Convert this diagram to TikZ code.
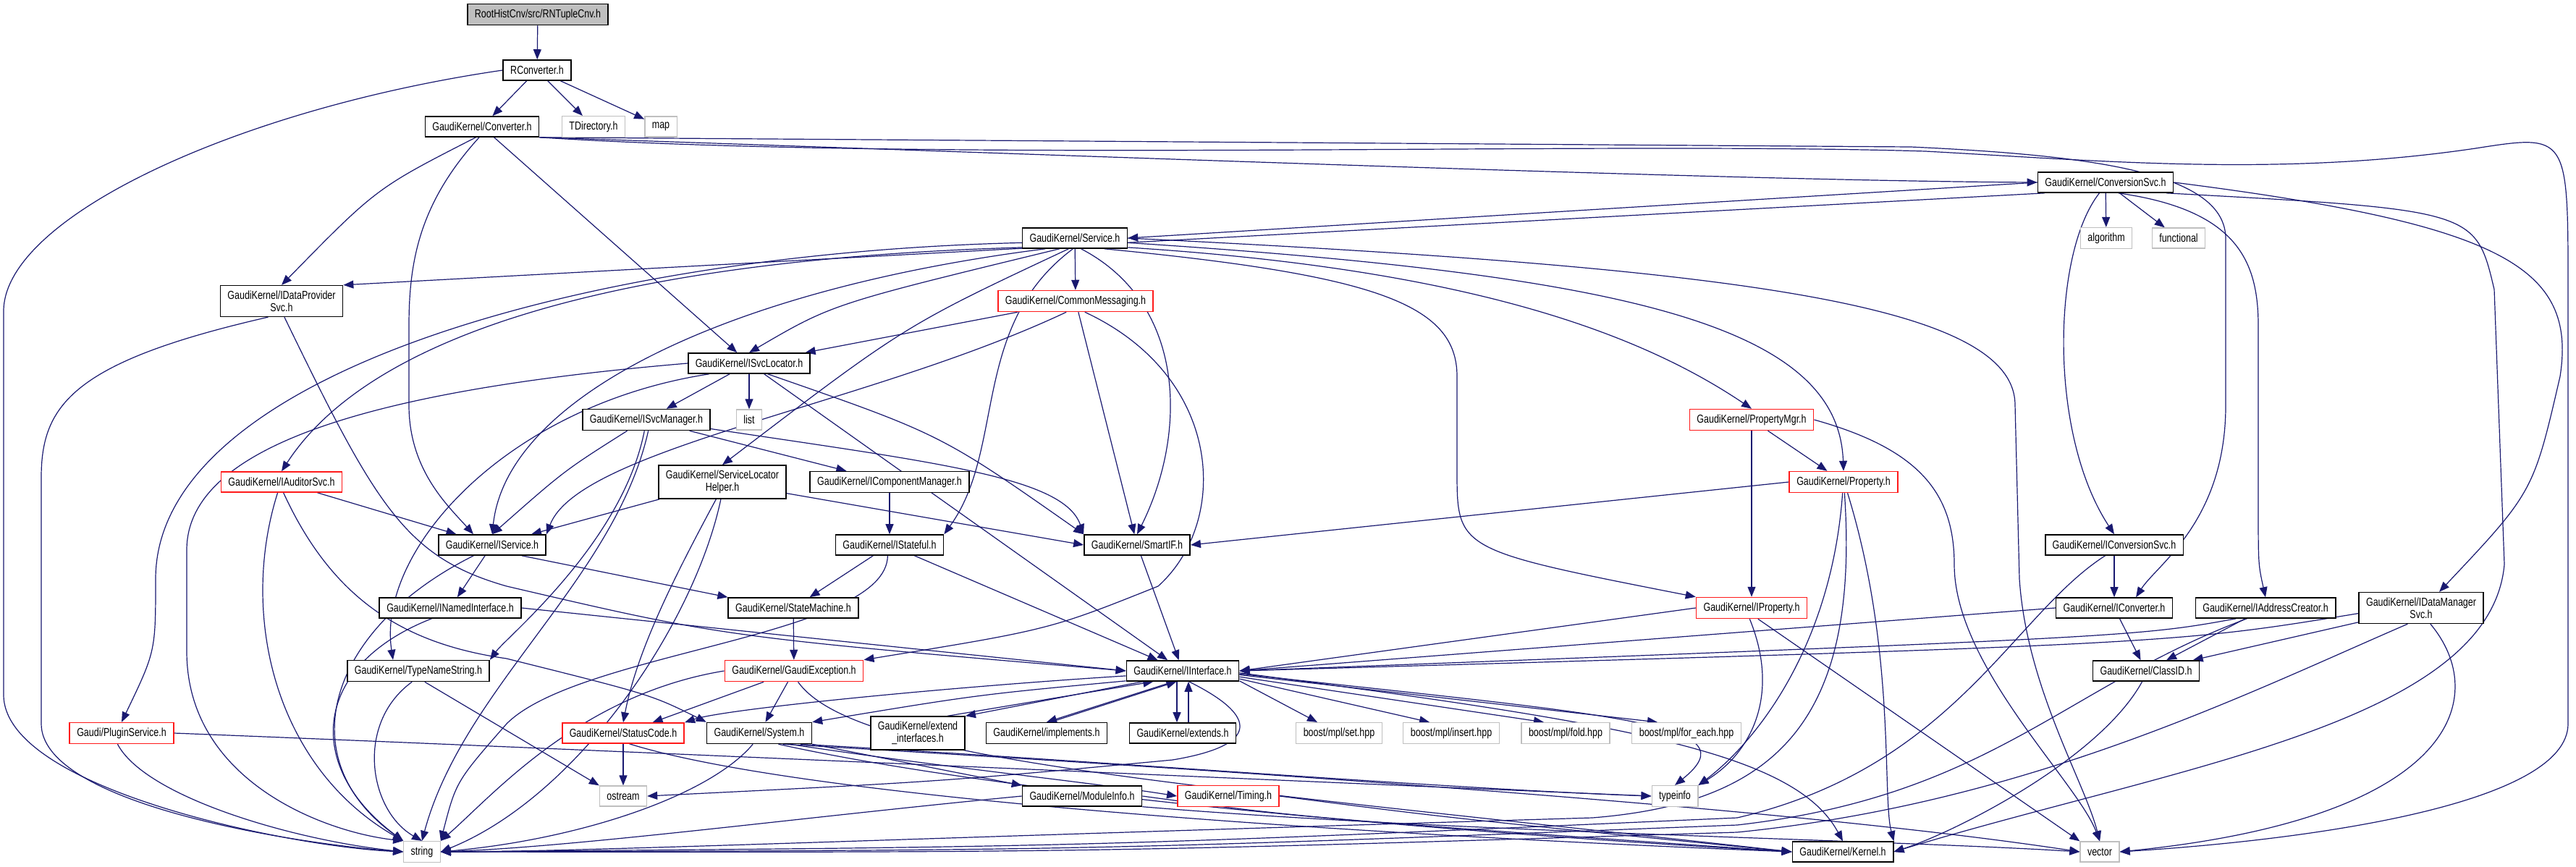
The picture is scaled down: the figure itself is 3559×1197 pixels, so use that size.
\documentclass[tikz,border=0pt]{standalone}
\usepackage{fontspec}
\setmainfont{Liberation Sans}[FakeStretch=0.78]
\usetikzlibrary{arrows.meta}
\definecolor{edgeblue}{HTML}{191970}
\definecolor{truncred}{HTML}{FF1A1A}
\definecolor{extgrey}{HTML}{BFBFBF}
\pgfdeclarelayer{edges}
\pgfsetlayers{edges,main}

\begin{document}
\begin{tikzpicture}[x=1pt, y=-1pt,
    hdr/.style={draw=black, line width=1.6pt, fill=white, inner xsep=10pt,
                inner ysep=7pt, minimum height=28pt, align=center,
                font=\fontsize{16}{17}\selectfont},
    trunc/.style={hdr, draw=truncred},
    ext/.style={hdr, draw=extgrey, line width=1.3pt},
    rootfile/.style={hdr, fill=extgrey},
    dep/.style={draw=edgeblue, line width=1.2pt,
                -{Triangle[length=14pt, width=11pt]}}]

  \useasboundingbox (0,0) rectangle (3559,1197);

  %% ---- headers, row by row ----
  \node[rootfile] (root) at (743,20) {RootHistCnv/src/RNTupleCnv.h};
  \node[hdr] (rconv) at (742,97) {RConverter.h};
  \node[hdr] (conv) at (666,175) {GaudiKernel/Converter.h};
  \node[ext] (tdir) at (820,175) {TDirectory.h};
  \node[ext] (map) at (913,175) {map};
  \node[hdr] (convsvc) at (2909,252) {GaudiKernel/ConversionSvc.h};
  \node[ext] (algo) at (2910,329) {algorithm};
  \node[ext] (func) at (3010,329) {functional};
  \node[hdr] (service) at (1485,329) {GaudiKernel/Service.h};
  \node[hdr] (idps) at (389,416) {GaudiKernel/IDataProvider\\Svc.h};
  \node[trunc] (cmsg) at (1486,416) {GaudiKernel/CommonMessaging.h};
  \node[hdr] (isl) at (1035,502) {GaudiKernel/ISvcLocator.h};
  \node[ext] (list) at (1035,580) {list};
  \node[hdr] (ism) at (893,580) {GaudiKernel/ISvcManager.h};
  \node[trunc] (pmgr) at (2420,580) {GaudiKernel/PropertyMgr.h};
  \node[trunc] (iaud) at (389,666) {GaudiKernel/IAuditorSvc.h};
  \node[hdr] (slh) at (998,666) {GaudiKernel/ServiceLocator\\Helper.h};
  \node[hdr] (icm) at (1229,666) {GaudiKernel/IComponentManager.h};
  \node[trunc] (prop) at (2547,666) {GaudiKernel/Property.h};
  \node[hdr] (isvc) at (680,753) {GaudiKernel/IService.h};
  \node[hdr] (istat) at (1229,753) {GaudiKernel/IStateful.h};
  \node[hdr] (smart) at (1571,753) {GaudiKernel/SmartIF.h};
  \node[hdr] (iconvsvc) at (2921,753) {GaudiKernel/IConversionSvc.h};
  \node[hdr] (inamed) at (622,840) {GaudiKernel/INamedInterface.h};
  \node[hdr] (smach) at (1096,840) {GaudiKernel/StateMachine.h};
  \node[trunc] (iprop) at (2420,840) {GaudiKernel/IProperty.h};
  \node[hdr] (iconv) at (2921,840) {GaudiKernel/IConverter.h};
  \node[hdr] (iaddr) at (3130,840) {GaudiKernel/IAddressCreator.h};
  \node[hdr] (idms) at (3345,840) {GaudiKernel/IDataManager\\Svc.h};
  \node[hdr] (tns) at (578,927) {GaudiKernel/TypeNameString.h};
  \node[trunc] (gexc) at (1097,927) {GaudiKernel/GaudiException.h};
  \node[hdr] (iint) at (1634,927) {GaudiKernel/IInterface.h};
  \node[hdr] (clid) at (2965,927) {GaudiKernel/ClassID.h};
  \node[trunc] (plugin) at (168,1013) {Gaudi/PluginService.h};
  \node[trunc] (sc) at (861,1013) {GaudiKernel/StatusCode.h};
  \node[hdr] (sys) at (1049,1013) {GaudiKernel/System.h};
  \node[hdr] (extif) at (1268,1013) {GaudiKernel/extend\\\_interfaces.h};
  \node[hdr] (impl) at (1446,1013) {GaudiKernel/implements.h};
  \node[hdr] (exts) at (1634,1013) {GaudiKernel/extends.h};
  \node[ext] (bset) at (1850,1013) {boost/mpl/set.hpp};
  \node[ext] (bins) at (2005,1013) {boost/mpl/insert.hpp};
  \node[ext] (bfold) at (2163,1013) {boost/mpl/fold.hpp};
  \node[ext] (bfe) at (2330,1013) {boost/mpl/for\_each.hpp};
  \node[ext] (ostream) at (861,1100) {ostream};
  \node[hdr] (minfo) at (1495,1100) {GaudiKernel/ModuleInfo.h};
  \node[trunc] (timing) at (1697,1100) {GaudiKernel/Timing.h};
  \node[ext] (typeinfo) at (2314,1100) {typeinfo};
  \node[ext] (string) at (583,1177) {string};
  \node[hdr] (kernel) at (2546,1177) {GaudiKernel/Kernel.h};
  \node[ext] (vector) at (2901,1177) {vector};

  \begin{pgfonlayer}{edges}
  %% ---- RNTupleCnv.h, RConverter.h ----
  \draw[dep] (root) -- (rconv);
  \draw[dep] (rconv) -- (conv);
  \draw[dep] (rconv) -- (tdir);
  \draw[dep] (rconv) -- (map);
  \draw[dep] (rconv.west) .. controls (330,150) and (5,300) .. (5,430) -- (5,960)
    .. controls (5,1090) and (400,1170) .. (string.west);

  %% ---- Converter.h ----
  \draw[dep] (conv.-120) .. controls (520,260) .. (idps.north);
  \draw[dep] (conv.-105) .. controls (580,280) and (565,360) .. (565,450) -- (565,560)
    .. controls (565,650) and (620,700) .. ([xshift=-26pt]isvc.north);
  \draw[dep] (conv) -- (isl);
  \draw[dep] (conv.south east) .. controls (1500,215) and (2400,250) .. (convsvc.west);
  \draw[dep] (conv.south east) -- (2640,203) .. controls (2900,215) and (3075,240) .. (3075,330)
    -- (3075,560) .. controls (3075,720) and (2980,780) .. ([xshift=30pt]iconv.north);
  \draw[dep] (conv.south east) .. controls (1300,225) and (2200,195) .. (2660,209)
    .. controls (2900,222) and (3150,245) .. (3420,205)
    .. controls (3548,185) .. (3548,400) -- (3548,1000)
    .. controls (3548,1110) and (3200,1160) .. (vector.east);

  %% ---- ConversionSvc.h ----
  \draw[dep] (convsvc.west) -- (service.east);
  \draw[dep] (convsvc.-170) -- (idps.north east);
  \draw[dep] (convsvc) -- (algo);
  \draw[dep] (convsvc) -- (func);
  \draw[dep] (convsvc.-120) .. controls (2835,350) and (2830,600) .. (iconvsvc.north);
  \draw[dep] (convsvc.-40) .. controls (3090,290) and (3120,360) .. (3120,450) -- (3120,700)
    .. controls (3120,780) .. (iaddr.north);
  \draw[dep] (convsvc.east) .. controls (3460,310) and (3560,370) .. (3537,520)
    .. controls (3500,680) .. ([xshift=25pt]idms.north);
  \draw[dep] (convsvc.-10) .. controls (3420,290) .. (3446,400) -- (3460,780)
    .. controls (3440,1000) and (3000,1060) .. (kernel.east);

  %% ---- Service.h ----
  \draw[dep] (service.-175) .. controls (800,350) and (215,520) .. (215,800)
    .. controls (215,900) .. (plugin.north);
  \draw[dep] (service.-170) .. controls (800,360) and (500,480) .. (iaud.north);
  \draw[dep] (service.-160) .. controls (1000,400) and (700,550) .. (isvc.north);
  \draw[dep] (service.-145) .. controls (1150,420) .. (isl.north);
  \draw[dep] (service) -- (cmsg);
  \draw[dep] (service.-120) .. controls (1250,450) .. (slh.north);
  \draw[dep] (service.-100) .. controls (1340,450) and (1390,620) .. (istat.north east);
  \draw[dep] (service.-60) .. controls (1640,420) and (1640,600) .. (smart.north);
  \draw[dep] (service.-10) .. controls (2000,370) and (2250,450) .. (pmgr.north);
  \draw[dep] (service.-5) .. controls (2250,380) and (2540,450) .. (prop.north);
  \draw[dep] (service.-20) .. controls (1900,380) and (2013,420) .. (2013,520) -- (2013,650)
    .. controls (2013,760) .. (iprop.north west);
  \draw[dep] (service.east) .. controls (2400,370) and (2784,420) .. (2784,560) -- (2790,800)
    .. controls (2800,950) and (2880,1080) .. (vector.north);

  %% ---- CommonMessaging.h ----
  \draw[dep] (cmsg) -- (isl);
  \draw[dep] (cmsg.-130) .. controls (1200,560) and (800,620) .. (isvc.north east);
  \draw[dep] (cmsg) -- (smart);
  \draw[dep] (cmsg.-50) .. controls (1690,520) and (1700,720) .. (1600,810)
    .. controls (1450,870) .. (gexc.north east);

  %% ---- ISvcLocator.h, ISvcManager.h ----
  \draw[dep] (isl) -- (ism);
  \draw[dep] (isl) -- (list);
  \draw[dep] (isl) -- (iint);
  \draw[dep] (isl.-30) .. controls (1300,600) .. (smart.north west);
  \draw[dep] (isl.west) .. controls (500,540) and (258,620) .. (258,760) -- (258,900)
    .. controls (258,1080) and (450,1150) .. (string.north west);
  \draw[dep] (isl.-165) .. controls (700,560) and (520,760) .. ([xshift=-35pt]tns.north);
  \draw[dep] (ism) -- (icm);
  \draw[dep] (ism.-8) .. controls (1300,640) and (1470,660) .. (smart.north west);
  \draw[dep] (ism.-150) .. controls (780,650) .. (isvc.north);
  \draw[dep] (ism.-100) .. controls (860,750) and (700,880) .. (tns.north east);
  \draw[dep] (ism.-80) .. controls (850,800) and (640,950) .. (string.north);

  %% ---- IAuditorSvc.h, ServiceLocatorHelper.h ----
  \draw[dep] (iaud) -- (isvc);
  \draw[dep] (iaud.-110) .. controls (330,850) and (380,1060) .. (string.north west);
  \draw[dep] (iaud.-80) .. controls (460,830) and (560,890) .. (700,910)
    .. controls (900,960) .. (sys.north west);
  \draw[dep] (slh) -- (isvc);
  \draw[dep] (slh.-110) .. controls (930,800) and (880,900) .. (sc.north);
  \draw[dep] (slh.-95) .. controls (960,860) and (800,1100) .. (string.east);
  \draw[dep] (slh.-10) -- (smart.west);

  %% ---- IComponentManager.h, IStateful.h, SmartIF.h ----
  \draw[dep] (icm) -- (istat);
  \draw[dep] (istat) -- (smach);
  \draw[dep] (istat) -- (iint);
  \draw[dep] (istat.-100) .. controls (1225,880) and (800,900) .. (700,1000)
    .. controls (630,1080) .. (string.north east);
  \draw[dep] (smart) -- (iint);

  %% ---- PropertyMgr.h, Property.h, IProperty.h ----
  \draw[dep] (pmgr) -- (prop);
  \draw[dep] (pmgr) -- (iprop);
  \draw[dep] (pmgr.east) .. controls (2650,620) and (2700,680) .. (2700,780)
    .. controls (2700,920) and (2870,1080) .. (vector.north);
  \draw[dep] (prop.west) -- (smart.east);
  \draw[dep] (prop.-95) .. controls (2530,900) and (2420,1030) .. (typeinfo.north east);
  \draw[dep] (prop.-85) .. controls (2570,1000) and (2450,1110) .. (2200,1130)
    .. controls (1200,1160) and (800,1177) .. (string.east);
  \draw[dep] (prop.-70) .. controls (2620,900) and (2600,1100) .. (kernel.north east);
  \draw[dep] (iprop.west) -- (iint.east);
  \draw[dep] (iprop.-100) .. controls (2460,960) and (2420,1040) .. (typeinfo.north east);
  \draw[dep] (iprop.-60) -- (vector.north west);

  %% ---- IService.h, INamedInterface.h, TypeNameString.h ----
  \draw[dep] (isvc) -- (inamed);
  \draw[dep] (isvc.-20) -- (smach.north west);
  \draw[dep] (isvc.-150) .. controls (450,870) and (400,1050) .. (string.north west);
  \draw[dep] (inamed.east) -- (iint.west);
  \draw[dep] (inamed.-150) .. controls (430,920) and (420,1060) .. (string.north west);
  \draw[dep] (tns.-120) .. controls (490,1000) and (510,1120) .. (string.north);
  \draw[dep] (tns.-60) -- (ostream.north west);

  %% ---- StateMachine.h, GaudiException.h ----
  \draw[dep] (smach) -- (gexc);
  \draw[dep] (gexc) -- (sc);
  \draw[dep] (gexc) -- (sys);
  \draw[dep] (gexc.west) .. controls (800,960) and (680,1100) .. (string.north east);
  \draw[dep] (gexc.-70) .. controls (1180,1050) and (1600,1080) .. (kernel.west);

  %% ---- IInterface.h ----
  \draw[dep] (iint.-175) .. controls (1300,950) and (1000,980) .. (sc.north east);
  \draw[dep] (iint.-170) .. controls (1350,960) .. (sys.north east);
  \draw[dep] (iint.-165) -- (extif.north east);
  \draw[dep] (extif.30) -- (iint.-160);
  \draw[dep] (iint.-130) -- (impl.north);
  \draw[dep] (impl.70) -- (iint.-120);
  \draw[dep] ([xshift=-8pt]iint.south) -- ([xshift=-8pt]exts.north);
  \draw[dep] ([xshift=8pt]exts.north) -- ([xshift=8pt]iint.south);
  \draw[dep] (iint.-10) -- ([xshift=-30pt]bset.north);
  \draw[dep] (iint.-8) -- ([xshift=-30pt]bins.north);
  \draw[dep] (iint.-6) -- ([xshift=-30pt]bfold.north);
  \draw[dep] (iint.-4) -- ([xshift=-40pt]bfe.north);
  \draw[dep] (iint.-60) .. controls (1740,990) and (1740,1030) .. (1620,1050)
    .. controls (1300,1080) .. (ostream.east);
  \draw[dep] (iint.-3) .. controls (2250,990) and (2420,1000) .. (typeinfo.north);
  \draw[dep] (iint.-2) .. controls (2250,1000) and (2480,1040) .. (kernel.north);

  %% ---- bottom rows ----
  \draw[dep] (plugin.-110) .. controls (200,1100) and (400,1160) .. (string.west);
  \draw[dep] (plugin.east) .. controls (800,1035) and (1800,1080) .. (typeinfo.west);
  \draw[dep] (sc) -- (ostream);
  \draw[dep] (sc.-60) .. controls (1100,1100) and (1800,1150) .. (kernel.west);
  \draw[dep] (sys.-120) .. controls (980,1100) and (800,1160) .. (string.east);
  \draw[dep] (sys.south east) -- (minfo.north west);
  \draw[dep] (sys.-20) .. controls (1300,1060) and (1500,1080) .. (timing.west);
  \draw[dep] (sys.-15) .. controls (1500,1050) and (2000,1090) .. (typeinfo.west);
  \draw[dep] (sys.-30) .. controls (1400,1100) and (2000,1150) .. (kernel.west);
  \draw[dep] (sys.-25) .. controls (1800,1070) and (2500,1120) .. (vector.west);
  \draw[dep] (minfo.west) .. controls (1100,1130) and (800,1170) .. (string.east);
  \draw[dep] (minfo.east) .. controls (1800,1130) .. (kernel.west);
  \draw[dep] (minfo.-10) .. controls (2000,1150) and (2600,1160) .. (vector.west);
  \draw[dep] (timing.east) .. controls (2000,1130) .. (kernel.west);

  %% ---- IConversionSvc.h, IConverter.h, IAddressCreator.h, IDataManagerSvc.h ----
  \draw[dep] (iconvsvc) -- (iconv);
  \draw[dep] (iconvsvc.-130) .. controls (2780,850) and (2700,1060) .. (2400,1130)
    .. controls (1500,1170) .. (string.east);
  \draw[dep] (iconv.west) -- (iint.east);
  \draw[dep] (iconv) -- (clid);
  \draw[dep] (iaddr.-160) .. controls (2950,880) .. (iint.east);
  \draw[dep] (iaddr) -- (clid);
  \draw[dep] (iaddr.-150) .. controls (2850,950) and (2750,1100) .. (2400,1140)
    .. controls (1500,1175) .. (string.east);
  \draw[dep] (idms.-175) .. controls (3000,890) .. (iint.east);
  \draw[dep] (idms) -- (clid);
  \draw[dep] (idms.-130) .. controls (3100,960) and (2800,1110) .. (2400,1150)
    .. controls (1500,1178) .. (string.east);
  \draw[dep] (idms.-60) .. controls (3440,960) and (3400,1130) .. (vector.east);
  \draw[dep] (clid.-110) .. controls (2900,1050) and (2700,1150) .. (kernel.east);

  %% ---- IDataProviderSvc.h ----
  \draw[dep] (idps.-80) .. controls (520,700) and (560,770) .. (700,810)
    .. controls (1000,880) .. (iint.west);
  \draw[dep] (idps.-130) .. controls (100,500) and (57,560) .. (57,660) -- (57,1000)
    .. controls (57,1110) and (400,1165) .. (string.west);
  \end{pgfonlayer}

\end{tikzpicture}
\end{document}
